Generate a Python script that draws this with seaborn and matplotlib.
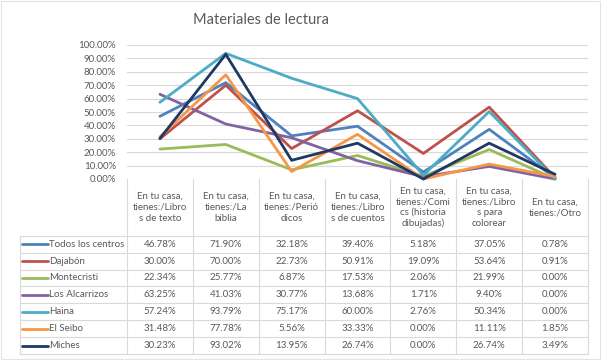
import pandas as pd
import seaborn as sns
import matplotlib.pyplot as plt
from matplotlib.patches import Rectangle
from matplotlib.ticker import FuncFormatter

categories = [
    "En tu casa,\ntienes:/Libro\ns de texto",
    "En tu casa,\ntienes:/La\nbiblia",
    "En tu casa,\ntienes:/Perió\ndicos",
    "En tu casa,\ntienes:/Libro\ns de cuentos",
    "En tu casa,\ntienes:/Comi\ncs (historia\ndibujadas)",
    "En tu casa,\ntienes:/Libro\ns para\ncolorear",
    "En tu casa,\ntienes:/Otro",
]
series_names = ["Todos los centros", "Dajabón", "Montecristi", "Los Alcarrizos",
                "Haina", "El Seibo", "Miches"]
todos = [46.78, 71.90, 32.18, 39.40, 5.18, 37.05, 0.78]
dajabon = [30.00, 70.00, 22.73, 50.91, 19.09, 53.64, 0.91]
montecristi = [22.34, 25.77, 6.87, 17.53, 2.06, 21.99, 0.00]
alcarrizos = [63.25, 41.03, 30.77, 13.68, 1.71, 9.40, 0.00]
haina = [57.24, 93.79, 75.17, 60.00, 2.76, 50.34, 0.00]
seibo = [31.48, 77.78, 5.56, 33.33, 0.00, 11.11, 1.85]
miches = [30.23, 93.02, 13.95, 26.74, 0.00, 26.74, 3.49]
colors = ["#4F81BD", "#C0504D", "#9BBB59", "#8064A2", "#4BACC6", "#F79646", "#1F3864"]

values = [todos, dajabon, montecristi, alcarrizos, haina, seibo, miches]
rows = []
for name, vals in zip(series_names, values):
    for i, v in enumerate(vals):
        rows.append({"serie": name, "cat": i, "pct": v / 100})
df = pd.DataFrame(rows)

sns.set_style("white")
plt.rcParams["font.family"] = ["Lato", "DejaVu Sans"]
text_color = "#595959"
grid_color = "#D9D9D9"

W, H = 601, 360
fig = plt.figure(figsize=(W / 100, H / 100), dpi=100)

# line chart area
left, right, top, bottom = 127, 588, 45, 179
ax = fig.add_axes([left / W, 1 - bottom / H, (right - left) / W, (bottom - top) / H])
sns.lineplot(data=df, x="cat", y="pct", hue="serie", hue_order=series_names,
             palette=colors, linewidth=2, sort=False, ax=ax, legend=False,
             clip_on=False)
ax.set_xlim(-0.5, len(categories) - 0.5)
ax.set_ylim(0, 1)
ax.set_yticks([i / 10 for i in range(11)])
ax.yaxis.set_major_formatter(FuncFormatter(lambda v, p: f"{v * 100:.2f}%"))
ax.set_xticks([])
ax.set_xlabel("")
ax.set_ylabel("")
ax.tick_params(axis="y", labelsize=7, colors=text_color, length=0, pad=8)
ax.grid(axis="y", color=grid_color, linewidth=0.8)
ax.set_axisbelow(True)
for s in ax.spines.values():
    s.set_visible(False)

fig.text(261 / W, 1 - 20 / H, "Materiales de lectura", ha="center", va="center",
         fontsize=10.5, color=text_color)

# data table drawn in pixel coordinates
tax = fig.add_axes([0, 0, 1, 1])
tax.set_xlim(0, W)
tax.set_ylim(H, 0)
tax.axis("off")
tax.add_patch(Rectangle((1, 1), W - 2, H - 2, fill=False, edgecolor="#E3E3E3", lw=0.8))

ncol = len(categories)
col_w = (right - left) / ncol
header_bottom = 235.7
row_h = 16.9
table_left = 20
nrow = len(series_names)
table_bottom = header_bottom + nrow * row_h

# header
for j, cat in enumerate(categories):
    cx = left + (j + 0.5) * col_w
    tax.text(cx, (bottom + header_bottom) / 2, cat, ha="center", va="center",
             fontsize=7, color=text_color, linespacing=1.25)
for j in range(ncol + 1):
    x = left + j * col_w
    tax.plot([x, x], [bottom, table_bottom], color=grid_color, lw=0.8)
tax.plot([table_left, table_left], [header_bottom, table_bottom], color=grid_color, lw=0.8)
for i in range(nrow + 1):
    y = header_bottom + i * row_h
    tax.plot([table_left, right], [y, y], color=grid_color, lw=0.8)

# rows
for i, (name, vals, c) in enumerate(zip(series_names, values, colors)):
    cy = header_bottom + (i + 0.5) * row_h
    tax.plot([22, 48], [cy, cy], color=c, lw=2)
    tax.text(49, cy, name, ha="left", va="center", fontsize=7, color=text_color)
    for j, v in enumerate(vals):
        tax.text(left + (j + 0.5) * col_w, cy, f"{v:.2f}%", ha="center", va="center",
                 fontsize=7, color=text_color)

fig.savefig("out.png", dpi=100)
